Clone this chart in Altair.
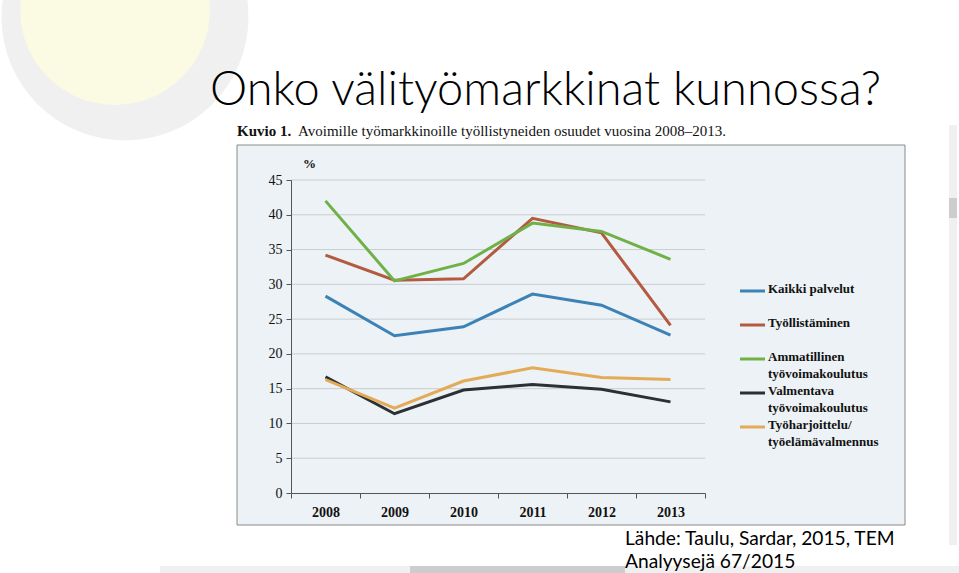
import altair as alt
import pandas as pd

years = ["2008", "2009", "2010", "2011", "2012", "2013"]
series = [
    "Kaikki palvelut",
    "Työllistäminen",
    "Ammatillinen työvoimakoulutus",
    "Valmentava työvoimakoulutus",
    "Työharjoittelu/ työelämävalmennus",
]
legend_labels = [
    "Kaikki palvelut",
    "Työllistäminen",
    "Ammatillinen\ntyövoimakoulutus",
    "Valmentava\ntyövoimakoulutus",
    "Työharjoittelu/\ntyöelämävalmennus",
]
kaikki = [28.3, 22.6, 23.9, 28.6, 27.0, 22.7]
tyollistaminen = [34.2, 30.6, 30.8, 39.5, 37.4, 24.1]
ammatillinen = [42.0, 30.5, 33.0, 38.8, 37.6, 33.6]
valmentava = [16.7, 11.4, 14.8, 15.6, 14.9, 13.1]
tyoharjoittelu = [16.3, 12.2, 16.1, 18.0, 16.6, 16.3]
colors = ["#3d82b6", "#b35a40", "#70b147", "#2b3035", "#e3ab57"]
y_ticks = [0, 5, 10, 15, 20, 25, 30, 35, 40, 45]

values = [kaikki, tyollistaminen, ammatillinen, valmentava, tyoharjoittelu]
rows = []
for s, vals in zip(series, values):
    for yr, v in zip(years, vals):
        rows.append({"Vuosi": yr, "Sarja": s, "Osuus": v})
df = pd.DataFrame(rows)
leg = pd.DataFrame({"Sarja": series, "Label": legend_labels})
grid_df = pd.DataFrame({"Osuus": y_ticks[1:]})

SERIF = "Liberation Serif"
SANS = "Lato"

color_scale = alt.Scale(domain=series, range=colors)
y_scale = alt.Scale(domain=[0, 45], nice=False)

# background decorations
one = pd.DataFrame({"a": [0]})
base = alt.Chart(one)

wm_outer = base.mark_point(filled=True, shape="circle", color="#f0f0f0", opacity=1, size=61000).encode(
    x=alt.value(-166), y=alt.value(-163))
wm_inner = base.mark_point(filled=True, shape="circle", color="#fbfbe4", opacity=1, size=36000).encode(
    x=alt.value(-176), y=alt.value(-170))

panel = base.mark_rect(fill="#ecf2f5", stroke="#8a8a8a", strokeWidth=1).encode(
    x=alt.value(-54), x2=alt.value(614), y=alt.value(-35), y2=alt.value(345))

grid = alt.Chart(grid_df).mark_rule(color="#c9cdd0", strokeWidth=1).encode(
    y=alt.Y("Osuus:Q", scale=y_scale, axis=None),
    x=alt.value(0), x2=alt.value(414))

lines = alt.Chart(df).mark_line(strokeWidth=3).encode(
    x=alt.X("Vuosi:O", sort=years,
            scale=alt.Scale(type="band", paddingInner=0, paddingOuter=0),
            bandPosition=0.5,
            axis=alt.Axis(title=None, labelAngle=0, labelFont=SERIF, labelFontSize=14,
                          labelFontWeight="bold", labelColor="#111", tickBand="extent",
                          domainColor="#555", tickColor="#555", tickSize=5,
                          labelPadding=7, grid=False, zindex=1)),
    y=alt.Y("Osuus:Q", scale=y_scale,
            axis=alt.Axis(title=None, values=y_ticks, labelFont=SERIF, labelFontSize=14,
                          labelColor="#111", grid=False, domainColor="#555",
                          tickColor="#555", tickSize=5, labelPadding=4, zindex=1)),
    color=alt.Color("Sarja:N", scale=color_scale, legend=None),
    detail="Sarja:N",
)

leg_y = alt.Y("Sarja:N", scale=alt.Scale(type="point", domain=series, range=[111, 247], padding=0), axis=None)
leg_rules = alt.Chart(leg).mark_rule(strokeWidth=3).encode(
    x=alt.value(449), x2=alt.value(474), y=leg_y,
    color=alt.Color("Sarja:N", scale=color_scale, legend=None))
leg_text = alt.Chart(leg).mark_text(align="left", baseline="top", dy=-8, font=SERIF, fontSize=13,
                                    fontWeight="bold", color="#111", lineBreak="\n",
                                    lineHeight=16.5).encode(
    x=alt.value(477), y=leg_y, text="Label:N")

title = base.mark_text(text="Onko välityömarkkinat kunnossa?", align="left", baseline="alphabetic",
                       font=SANS, fontSize=47, fontWeight=300, color="#000").encode(
    x=alt.value(-81), y=alt.value(-75))
sub1 = base.mark_text(text="Kuvio 1.", align="left", baseline="alphabetic", font=SERIF,
                      fontSize=15, fontWeight="bold", color="#111").encode(
    x=alt.value(-54), y=alt.value(-44))
sub2 = base.mark_text(text="Avoimille työmarkkinoille työllistyneiden osuudet vuosina 2008–2013.",
                      align="left", baseline="alphabetic", font=SERIF, fontSize=15,
                      color="#111").encode(x=alt.value(7), y=alt.value(-44))
pct = base.mark_text(text="%", align="left", baseline="alphabetic", font=SERIF, fontSize=13,
                     fontWeight="bold", color="#111").encode(x=alt.value(12), y=alt.value(-12))
src1 = base.mark_text(text="Lähde: Taulu, Sardar, 2015, TEM", align="left", baseline="alphabetic",
                      font=SANS, fontSize=19.2, color="#000").encode(x=alt.value(334), y=alt.value(365))

scroll_bg = base.mark_rect(fill="#f0f0f0").encode(
    x=alt.value(-131), x2=alt.value(668), y=alt.value(386), y2=alt.value(393))
scroll_thumb = base.mark_rect(fill="#cdcdcd").encode(
    x=alt.value(119), x2=alt.value(334), y=alt.value(386), y2=alt.value(393))
vscroll_bg = base.mark_rect(fill="#f0f0f0").encode(
    x=alt.value(658), x2=alt.value(666), y=alt.value(-55), y2=alt.value(365))
vscroll_thumb = base.mark_rect(fill="#cdcdcd").encode(
    x=alt.value(658), x2=alt.value(666), y=alt.value(18), y2=alt.value(38))
src2 = base.mark_text(text="Analyysejä 67/2015", align="left", baseline="alphabetic",
                      font=SANS, fontSize=19.2, color="#000").encode(x=alt.value(334), y=alt.value(388))

chart = alt.layer(
    wm_outer, wm_inner, panel, scroll_bg, scroll_thumb, vscroll_bg, vscroll_thumb,
    grid, lines, leg_rules, leg_text, title, sub1, sub2, pct, src1, src2,
).resolve_scale(y="independent").properties(
    width=414, height=313,
    autosize=alt.AutoSizeParams(type="none"),
    padding={"left": 291, "top": 180, "right": 254, "bottom": 80},
    background="#ffffff",
).configure_view(stroke="#8a8a8a", strokeWidth=1)

chart.save("out.html", embed_options={"renderer": "svg", "actions": False})
